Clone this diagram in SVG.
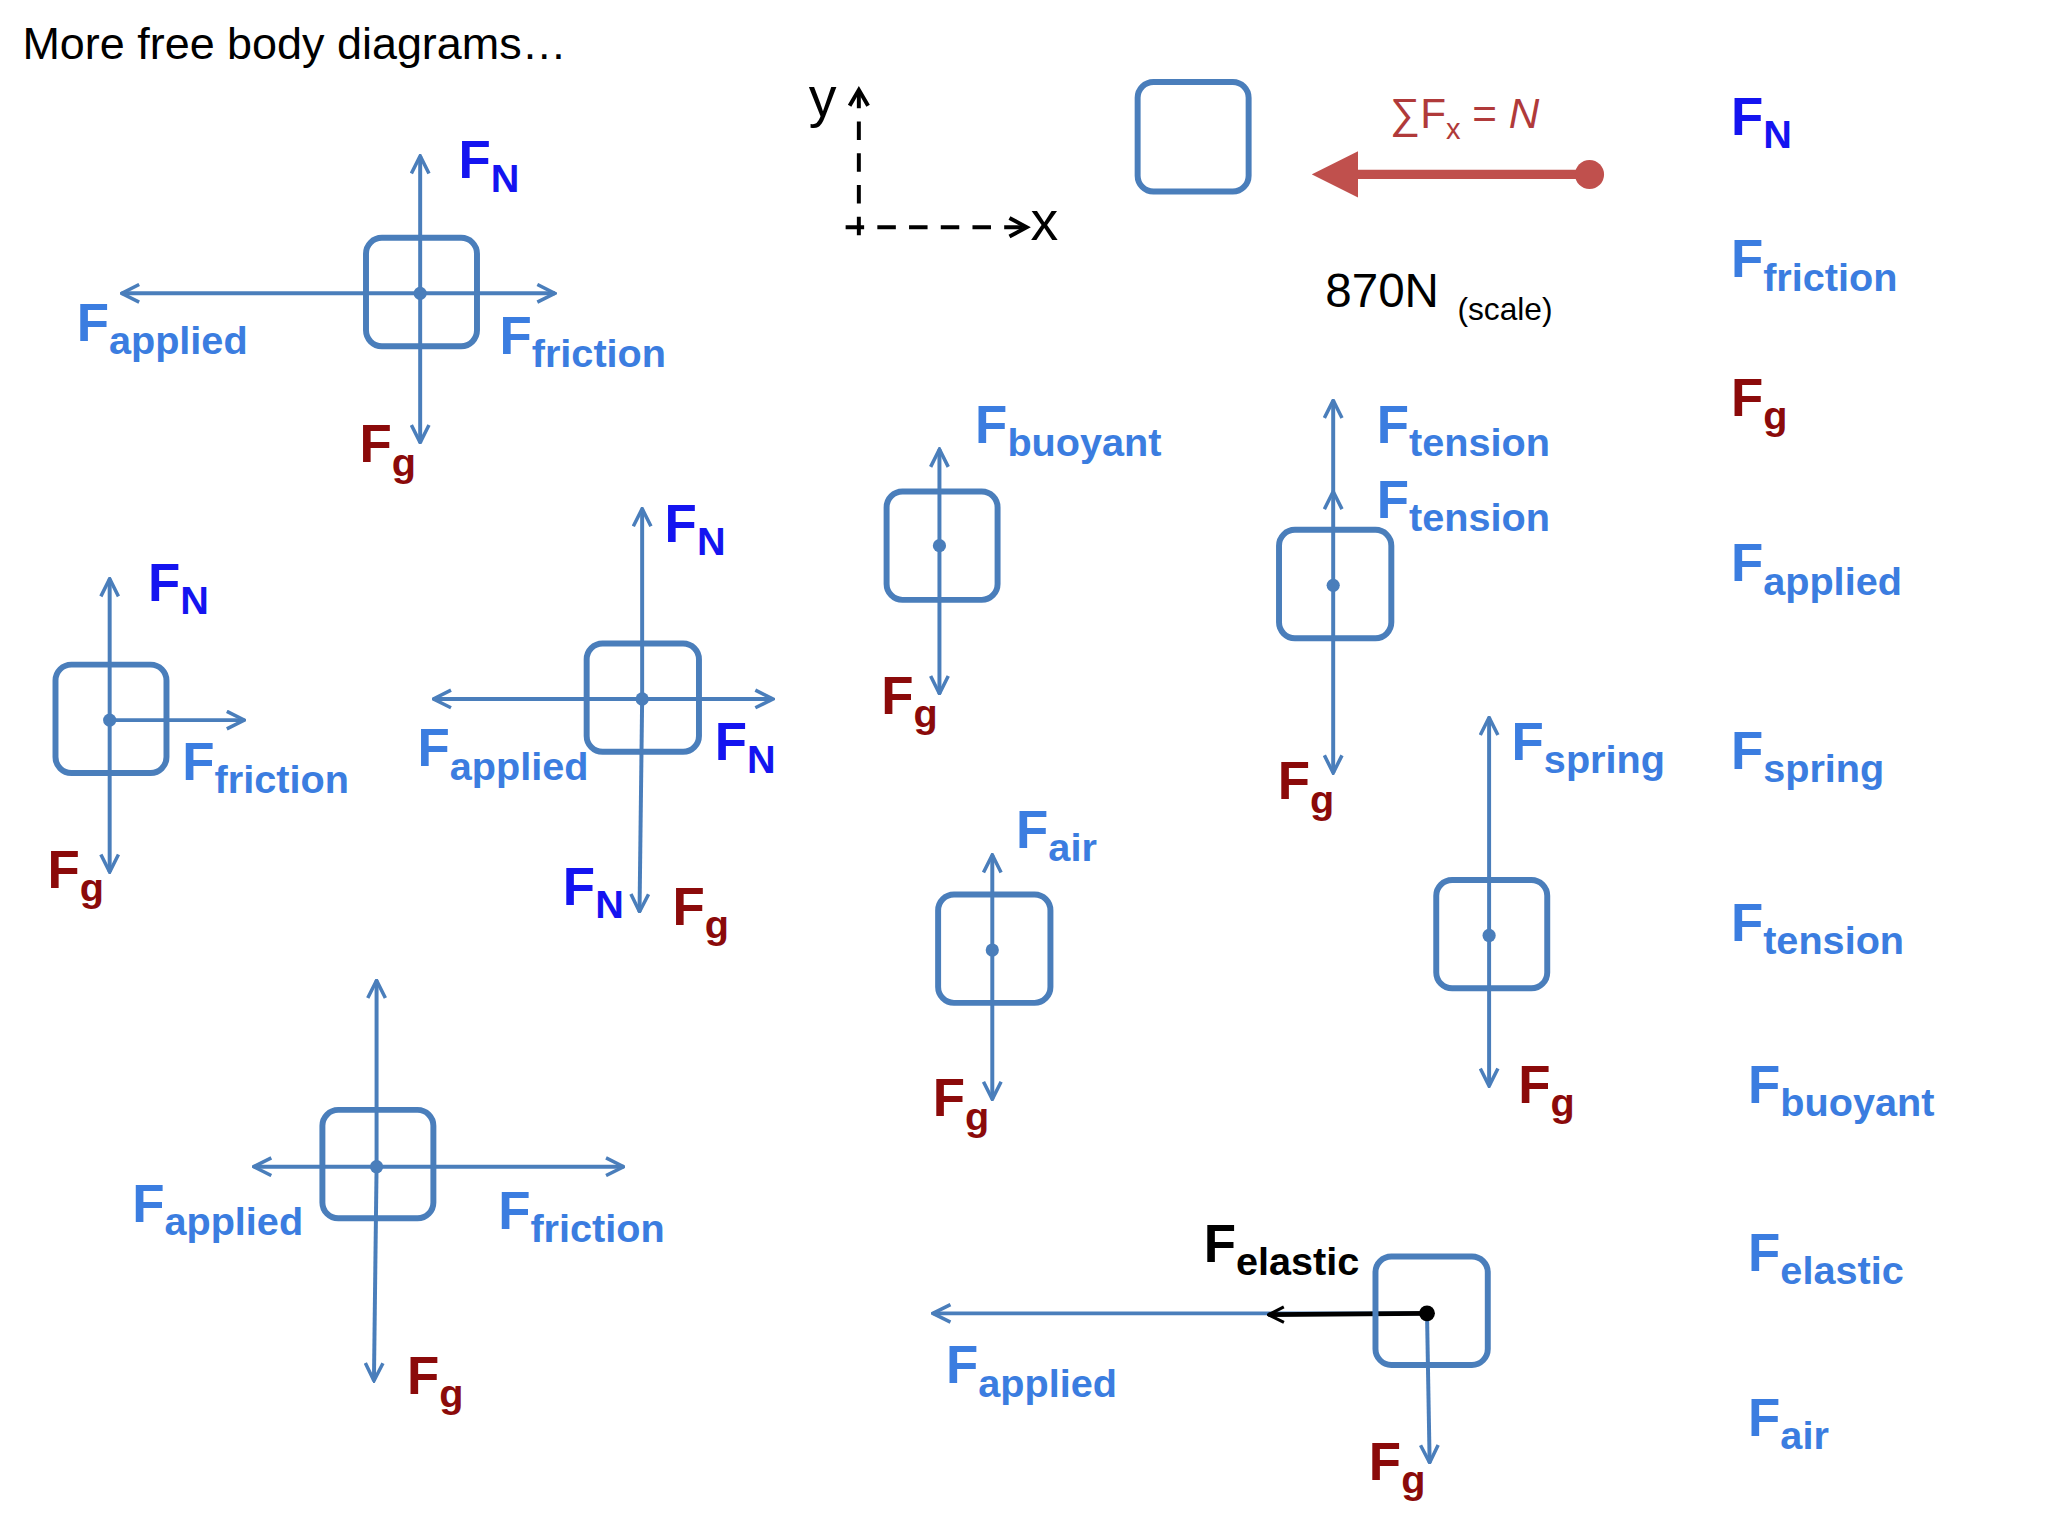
<svg xmlns="http://www.w3.org/2000/svg" width="2048" height="1536" viewBox="0 0 2048 1536">
<defs>
<marker id="v" viewBox="0 0 12 12" refX="11" refY="6" markerWidth="16" markerHeight="16" markerUnits="userSpaceOnUse" orient="auto-start-reverse"><path d="M1,1 L11,6 L1,11" fill="none" stroke="#4a7ebb" stroke-width="2"/></marker>
<marker id="vk" viewBox="0 0 12 12" refX="11" refY="6" markerWidth="14" markerHeight="14" markerUnits="userSpaceOnUse" orient="auto-start-reverse"><path d="M1,1 L11,6 L1,11" fill="none" stroke="#000" stroke-width="2"/></marker>
<marker id="vb" viewBox="0 0 12 12" refX="11" refY="6" markerWidth="20" markerHeight="20" markerUnits="userSpaceOnUse" orient="auto-start-reverse"><path d="M1,1 L11,6 L1,11" fill="none" stroke="#000" stroke-width="2.2"/></marker>
<marker id="tri" viewBox="0 0 12 12" refX="2" refY="6" markerWidth="5" markerHeight="5" orient="auto"><path d="M0,0 L12,6 L0,12 z" fill="#c0504d"/></marker>
</defs>
<style>
.bx{fill:none;stroke:#4a7ebb;stroke-width:4.5}
.ln{stroke:#4a7ebb;stroke-width:3;fill:none}
.dt{fill:#4a7ebb}
text{font-family:"Liberation Sans Narrow","Liberation Sans",Arial,sans-serif}
.f{font-size:40px;font-weight:bold}
.s{font-size:30px;font-weight:bold}
.b{fill:#3b7de0}
.n{fill:#1414f0}
.r{fill:#8b0a0a}
.k{fill:#000}
</style>
<rect width="2048" height="1536" fill="#fff"/>
<g transform="scale(1.3213)">
<text x="17" y="45" font-size="34" fill="#000" font-family="Liberation Sans, sans-serif">More free body diagrams…</text>

<g id="connectors">
<line class="ln" x1="318" y1="222" x2="318" y2="118" marker-end="url(#v)"/>
<line class="ln" x1="318" y1="222" x2="318" y2="335" marker-end="url(#v)"/>
<line class="ln" x1="318" y1="222" x2="92" y2="222" marker-end="url(#v)"/>
<line class="ln" x1="318" y1="222" x2="420" y2="222" marker-end="url(#v)"/>

<line class="ln" x1="83" y1="545" x2="83" y2="438" marker-end="url(#v)"/>
<line class="ln" x1="83" y1="545" x2="83" y2="660" marker-end="url(#v)"/>
<line class="ln" x1="83" y1="545" x2="185" y2="545" marker-end="url(#v)"/>

<line class="ln" x1="486" y1="529" x2="486" y2="385" marker-end="url(#v)"/>
<line class="ln" x1="486" y1="529" x2="484" y2="690" marker-end="url(#v)"/>
<line class="ln" x1="486" y1="529" x2="328" y2="529" marker-end="url(#v)"/>
<line class="ln" x1="486" y1="529" x2="585" y2="529" marker-end="url(#v)"/>

<line class="ln" x1="285" y1="883" x2="285" y2="742" marker-end="url(#v)"/>
<line class="ln" x1="285" y1="883" x2="283" y2="1045" marker-end="url(#v)"/>
<line class="ln" x1="285" y1="883" x2="192" y2="883" marker-end="url(#v)"/>
<line class="ln" x1="285" y1="883" x2="472" y2="883" marker-end="url(#v)"/>

<line class="ln" x1="711" y1="413" x2="711" y2="340" marker-end="url(#v)"/>
<line class="ln" x1="711" y1="413" x2="711" y2="525" marker-end="url(#v)"/>

<line class="ln" x1="1009" y1="443" x2="1009" y2="372" marker-end="url(#v)"/>
<line class="ln" x1="1009" y1="372" x2="1009" y2="303" marker-end="url(#v)"/>
<line class="ln" x1="1009" y1="443" x2="1009" y2="585" marker-end="url(#v)"/>

<line class="ln" x1="751" y1="719" x2="751" y2="647" marker-end="url(#v)"/>
<line class="ln" x1="751" y1="719" x2="751" y2="832" marker-end="url(#v)"/>

<line class="ln" x1="1127" y1="708" x2="1127" y2="543" marker-end="url(#v)"/>
<line class="ln" x1="1127" y1="708" x2="1127" y2="822" marker-end="url(#v)"/>

<line class="ln" x1="1080" y1="994" x2="706" y2="994" marker-end="url(#v)"/>
<line class="ln" x1="1080" y1="994" x2="1082" y2="1107" marker-end="url(#v)"/>
<line x1="1080" y1="994" x2="960" y2="995" stroke="#000" stroke-width="3.5" marker-end="url(#vk)"/>

<line x1="650" y1="178" x2="650" y2="70" stroke="#000" stroke-width="3" stroke-dasharray="14,10" />
<path d="M643,80 L650,68 L657,80" fill="none" stroke="#000" stroke-width="3"/>
<line x1="640" y1="172" x2="776" y2="172" stroke="#000" stroke-width="3" stroke-dasharray="14,10"/>
<path d="M764,165 L777,172 L764,179" fill="none" stroke="#000" stroke-width="3"/>
<line x1="1203" y1="132" x2="1022" y2="132" stroke="#c0504d" stroke-width="7" marker-end="url(#tri)"/>
<circle cx="1203" cy="132" r="11" fill="#c0504d"/>
</g>

<g id="boxes">
<g id="b1"><rect class="bx" x="277" y="180" width="84" height="82" rx="12"/><circle class="dt" cx="318" cy="222" r="5"/></g>
<g id="b2"><rect class="bx" x="42" y="503" width="84" height="82" rx="12"/><circle class="dt" cx="83" cy="545" r="5"/></g>
<g id="b3"><rect class="bx" x="444" y="487" width="85" height="82" rx="12"/><circle class="dt" cx="486" cy="529" r="5"/></g>
<g id="b4"><rect class="bx" x="244" y="840" width="84" height="82" rx="12"/><circle class="dt" cx="285" cy="883" r="5"/></g>
<g id="b5"><rect class="bx" x="861" y="62" width="84" height="83" rx="12"/></g>
<g id="b6"><rect class="bx" x="671" y="372" width="84" height="82" rx="12"/><circle class="dt" cx="711" cy="413" r="5"/></g>
<g id="b7"><rect class="bx" x="968" y="401" width="85" height="82" rx="12"/><circle class="dt" cx="1009" cy="443" r="5"/></g>
<g id="b8"><rect class="bx" x="710" y="677" width="85" height="82" rx="12"/><circle class="dt" cx="751" cy="719" r="5"/></g>
<g id="b9"><rect class="bx" x="1087" y="666" width="84" height="82" rx="12"/><circle class="dt" cx="1127" cy="708" r="5"/></g>
<g id="b10"><rect class="bx" x="1041" y="951" width="85" height="82" rx="12"/><circle fill="#000" cx="1080" cy="994" r="6"/></g>
</g>

<g id="labels">
<text x="612" y="88" font-size="42" fill="#000">y</text>
<text x="780" y="182" font-size="42" fill="#000">x</text>
<text x="1052" y="97" font-size="32" fill="#b03a3a">∑F<tspan font-size="22" dy="8">x</tspan><tspan dy="-8"> = </tspan><tspan font-style="italic">N</tspan></text>
<text x="1003" y="232" font-size="36" fill="#000">870N <tspan font-size="24" dx="4" dy="10">(scale)</tspan></text>

<text x="347" y="135" class="f n">F<tspan class="s" dy="10">N</tspan></text>
<text x="58" y="258" class="f b">F<tspan class="s" dy="10">applied</tspan></text>
<text x="378" y="268" class="f b">F<tspan class="s" dy="10">friction</tspan></text>
<text x="272" y="350" class="f r">F<tspan class="s" dy="10">g</tspan></text>

<text x="112" y="455" class="f n">F<tspan class="s" dy="10">N</tspan></text>
<text x="138" y="590" class="f b">F<tspan class="s" dy="10">friction</tspan></text>
<text x="36" y="672" class="f r">F<tspan class="s" dy="10">g</tspan></text>

<text x="503" y="410" class="f n">F<tspan class="s" dy="10">N</tspan></text>
<text x="316" y="580" class="f b">F<tspan class="s" dy="10">applied</tspan></text>
<text x="541" y="575" class="f n">F<tspan class="s" dy="10">N</tspan></text>
<text x="426" y="685" class="f n">F<tspan class="s" dy="10">N</tspan></text>
<text x="509" y="700" class="f r">F<tspan class="s" dy="10">g</tspan></text>

<text x="100" y="925" class="f b">F<tspan class="s" dy="10">applied</tspan></text>
<text x="377" y="930" class="f b">F<tspan class="s" dy="10">friction</tspan></text>
<text x="308" y="1055" class="f r">F<tspan class="s" dy="10">g</tspan></text>

<text x="738" y="335" class="f b">F<tspan class="s" dy="10">buoyant</tspan></text>
<text x="667" y="540" class="f r">F<tspan class="s" dy="10">g</tspan></text>

<text x="1042" y="335" class="f b">F<tspan class="s" dy="10">tension</tspan></text>
<text x="1042" y="392" class="f b">F<tspan class="s" dy="10">tension</tspan></text>
<text x="967" y="605" class="f r">F<tspan class="s" dy="10">g</tspan></text>

<text x="769" y="642" class="f b">F<tspan class="s" dy="10">air</tspan></text>
<text x="706" y="845" class="f r">F<tspan class="s" dy="10">g</tspan></text>

<text x="1144" y="575" class="f b">F<tspan class="s" dy="10">spring</tspan></text>
<text x="1149" y="835" class="f r">F<tspan class="s" dy="10">g</tspan></text>

<text x="911" y="955" class="f k">F<tspan class="s" dy="10">elastic</tspan></text>
<text x="716" y="1047" class="f b">F<tspan class="s" dy="10">applied</tspan></text>
<text x="1036" y="1120" class="f r">F<tspan class="s" dy="10">g</tspan></text>

<text x="1310" y="102" class="f n">F<tspan class="s" dy="10">N</tspan></text>
<text x="1310" y="210" class="f b">F<tspan class="s" dy="10">friction</tspan></text>
<text x="1310" y="315" class="f r">F<tspan class="s" dy="10">g</tspan></text>
<text x="1310" y="440" class="f b">F<tspan class="s" dy="10">applied</tspan></text>
<text x="1310" y="582" class="f b">F<tspan class="s" dy="10">spring</tspan></text>
<text x="1310" y="712" class="f b">F<tspan class="s" dy="10">tension</tspan></text>
<text x="1323" y="835" class="f b">F<tspan class="s" dy="10">buoyant</tspan></text>
<text x="1323" y="962" class="f b">F<tspan class="s" dy="10">elastic</tspan></text>
<text x="1323" y="1087" class="f b">F<tspan class="s" dy="10">air</tspan></text>
</g>
</g>
</svg>
